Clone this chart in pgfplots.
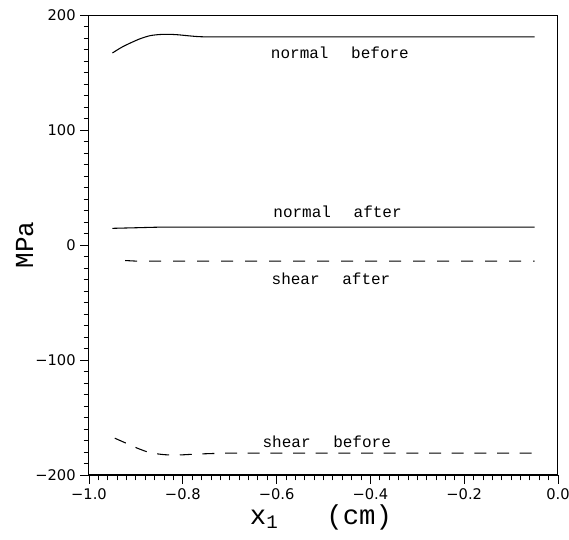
\documentclass[border=0pt]{standalone}
\usepackage{fontspec}
\setmainfont{Liberation Mono}
\newfontfamily\tickfont{DejaVu Sans}
\usepackage{pgfplots}
\pgfplotsset{compat=1.18}

% tick labels with a real minus sign in the text font
\newcommand{\signed}[2]{%
  \pgfmathparse{abs(#1)}\let\absval\pgfmathresult
  \ifdim #1pt<-0.001pt −\fi\pgfmathprintnumber[#2]{\absval}}

\pgfplotsset{
  frame/.style={
    scale only axis,
    width=351.75pt, height=345pt,
    xmin=-1.0, xmax=0.0,
    ymin=-200, ymax=200,
    xtick pos=bottom, ytick pos=left,
    tick align=outside,
    tick style={black, line width=0.6pt},
    axis line style={line width=0.75pt},
  }
}

\begin{document}
\begin{tikzpicture}
% page frame with the reference's margins round the axis box
\useasboundingbox (-66.75pt,-48.75pt) rectangle (360pt,356.25pt);

% small ticks, every 0.02 cm and every 10 MPa
\begin{axis}[
    frame,
    xtick={-1,-0.98,...,0},
    ytick={-200,-190,...,200},
    xticklabels={}, yticklabels={},
    major tick length=4pt,
]
\end{axis}

\begin{axis}[
    frame,
    xtick={-1,-0.8,-0.6,-0.4,-0.2,0},
    ytick={-200,-100,0,100,200},
    major tick length=6.5pt,
    /pgf/number format/assume math mode=true,
    xticklabel={\signed{\tick}{fixed,fixed zerofill,precision=1}},
    yticklabel={\signed{\tick}{fixed,precision=0}},
    tick label style={font=\tickfont\fontsize{11}{13}\selectfont},
    xlabel={x\textsubscript{1}\hspace{36pt}(cm)},
    ylabel={MPa},
    xlabel style={font=\fontsize{20.5}{24}\selectfont,
        at={(axis description cs:0.333,0)}, anchor=base west, yshift=-37pt},
    ylabel style={font=\fontsize{19.5}{22}\selectfont,
        at={(axis description cs:-0.1194,0.5)}, anchor=base},
    every axis plot/.append style={black, line width=0.8pt},
    clip=false,
]
% normal before
\addplot[smooth] coordinates {
    (-0.950,167) (-0.930,172) (-0.910,176) (-0.890,179.5) (-0.870,182)
    (-0.850,183) (-0.830,183.2) (-0.810,182.8) (-0.790,182) (-0.770,181.3)
    (-0.750,181) (-0.700,181) (-0.600,181) (-0.500,181) (-0.400,181)
    (-0.300,181) (-0.200,181) (-0.100,181) (-0.050,181)
};
% normal after
\addplot[smooth] coordinates {
    (-0.950,14.5) (-0.900,15.0) (-0.850,15.5) (-0.800,15.5) (-0.700,15.5)
    (-0.600,15.5) (-0.500,15.5) (-0.400,15.5) (-0.300,15.5) (-0.200,15.5)
    (-0.100,15.5) (-0.050,15.5)
};
% shear after
\addplot[dash pattern=on 9pt off 9pt] coordinates {
    (-0.923,-13.5) (-0.900,-14) (-0.800,-14) (-0.700,-14) (-0.600,-14)
    (-0.500,-14) (-0.400,-14) (-0.300,-14) (-0.200,-14) (-0.100,-14)
    (-0.050,-14)
};
% shear before
\addplot[smooth, dash pattern=on 9pt off 8pt] coordinates {
    (-0.945,-168) (-0.920,-172.5) (-0.895,-177) (-0.870,-180.5) (-0.840,-182.3)
    (-0.810,-182.6) (-0.780,-182) (-0.750,-181.5) (-0.700,-181) (-0.600,-181)
    (-0.500,-181) (-0.400,-181) (-0.300,-181) (-0.200,-181) (-0.100,-181)
    (-0.050,-181)
};
\node[font=\fontsize{12}{14}\selectfont] at (axis cs:-0.465,167) {normal\hspace{17pt}before};
\node[font=\fontsize{12}{14}\selectfont] at (axis cs:-0.470,29) {normal\hspace{17pt}after};
\node[font=\fontsize{12}{14}\selectfont] at (axis cs:-0.484,-29) {shear\hspace{17pt}after};
\node[font=\fontsize{12}{14}\selectfont] at (axis cs:-0.493,-171) {shear\hspace{17pt}before};
\end{axis}
\end{tikzpicture}
\end{document}
